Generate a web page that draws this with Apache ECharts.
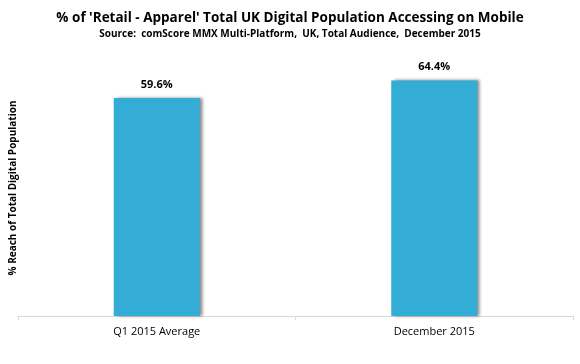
<!DOCTYPE html>
<html><head><meta charset="utf-8">
<script src="https://cdn.jsdelivr.net/npm/echarts@6/dist/echarts.min.js"></script>
<style>html,body{margin:0;padding:0;background:#fff}#c{width:580px;height:364px}</style>
</head><body><div id="c"></div>
<script>
const categories = ['Q1 2015 Average', 'December 2015'];
const values = [59.6, 64.4];
const titleText = "% of 'Retail - Apparel' Total UK Digital Population Accessing on Mobile";
const subtitleText = 'Source:  comScore MMX Multi-Platform,  UK, Total Audience,  December 2015';
const yName = '% Reach of Total Digital Population';

const chart = echarts.init(document.getElementById('c'), null, {renderer: 'canvas'});
chart.setOption({
  animation: false,
  backgroundColor: '#fff',
  title: {
    text: titleText, subtext: subtitleText, left: 'center', top: 6, itemGap: 4,
    textStyle: {fontFamily: 'Open Sans', fontWeight: 'bold', fontSize: 13.5, color: '#000'},
    subtextStyle: {fontFamily: 'Open Sans', fontWeight: 'bold', fontSize: 10, color: '#000'}
  },
  grid: {left: 13, right: 7, top: 60, bottom: 48, containLabel: false},
  xAxis: {
    type: 'category', data: categories,
    axisLine: {lineStyle: {color: '#d9d9d9', width: 1}},
    axisTick: {show: true, length: 4, lineStyle: {color: '#d9d9d9'}},
    axisLabel: {color: '#000', fontFamily: 'Open Sans', fontSize: 11, margin: 10}
  },
  yAxis: {
    type: 'value', min: 0, max: 70,
    name: yName, nameLocation: 'middle', nameGap: 0, nameRotate: 90,
    nameTextStyle: {fontFamily: 'Open Sans', fontWeight: 'bold', fontSize: 10, color: '#000', padding: [0,0,0,0]},
    axisLine: {show: false}, axisTick: {show: false}, axisLabel: {show: false},
    splitLine: {show: false}
  },
  series: [{
    type: 'bar', data: values, barWidth: '31%',
    itemStyle: {color: '#33acd6', shadowColor: 'rgba(0,0,0,0.45)', shadowBlur: 3, shadowOffsetX: 3, shadowOffsetY: 0},
    label: {show: true, position: 'top', distance: 8, formatter: p => p.value.toFixed(1) + '%',
      fontFamily: 'Open Sans', fontWeight: 'bold', fontSize: 11, color: '#000'}
  }]
});
</script></body></html>
